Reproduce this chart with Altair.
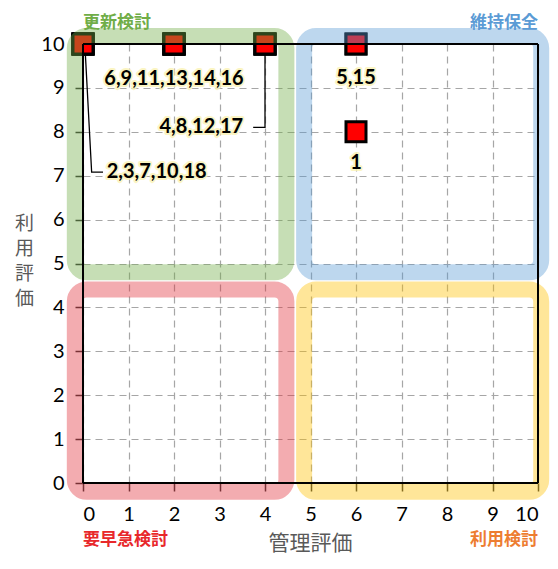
import altair as alt
import pandas as pd

# ---- data ----
item_ids = list(range(1, 19))
mgmt_score = [6, 0, 0, 4, 6, 2, 0, 4, 2, 0, 2, 4, 2, 2, 6, 2, 4, 0]
use_score = [8, 10, 10, 10, 10, 10, 10, 10, 10, 10, 10, 10, 10, 10, 10, 10, 10, 10]

group_text = ["1", "2,3,7,10,18", "6,9,11,13,14,16", "4,8,12,17", "5,15"]
group_lx = [6, 0.52, 2, 3.52, 6]
group_ly = [7.28, 7.08, 9.2, 8.1, 9.22]
group_align = ["center", "left", "center", "right", "center"]

quad_names = ["更新検討", "維持保全", "要早急検討", "利用検討"]
quad_colors = ["#70ad47", "#5b9bd5", "#e0303a", "#ffc000"]
quad_text_colors = ["#70ad47", "#5b9bd5", "#e8282b", "#ed7d31"]
quad_x = [-0.18, 4.86, -0.18, 4.86]
quad_x2 = [4.47, 10.07, 4.47, 10.07]
quad_y = [4.8, 4.8, -0.2, -0.2]
quad_y2 = [10.18, 10.18, 4.41, 4.41]
quad_lx = [0, 10, 0, 10]
quad_ly = [10.48, 10.48, -1.3, -1.3]
quad_align = ["left", "right", "left", "right"]

ticks = list(range(0, 11))

pts = pd.DataFrame({"id": item_ids, "x": mgmt_score, "y": use_score})
labels = pd.DataFrame({"text": group_text, "x": group_lx, "y": group_ly, "align": group_align})
quads = pd.DataFrame({"name": quad_names, "color": quad_colors, "tcolor": quad_text_colors,
                      "x": quad_x, "x2": quad_x2, "y": quad_y, "y2": quad_y2,
                      "lx": quad_lx, "ly": quad_ly, "align": quad_align})
leaders = pd.DataFrame({
    "g": ["a", "a", "a", "b", "b", "b"],
    "o": [0, 1, 2, 0, 1, 2],
    "x": [0.04, 0.19, 0.44, 4.0, 4.0, 3.74],
    "y": [10, 7.08, 7.08, 10, 8.1, 8.1],
})
borders = pd.DataFrame({"x": [0, 10, 0, 0], "x2": [10, 10, 0, 10],
                        "y": [10, 0, 0, 0], "y2": [10, 10, 10, 0]})

xs = alt.Scale(domain=[0, 10], nice=False, zero=False)
ys = alt.Scale(domain=[0, 10], nice=False, zero=False)

xaxis = alt.Axis(values=ticks, grid=True, gridDash=[7, 5], gridColor="#a6a6a6", gridWidth=1.2,
                 domain=False, tickColor="#333333", tickSize=8, tickWidth=1.5,
                 labelFont="Lato", labelFontSize=20, labelColor="#000000", labelPadding=13,
                 title="管理評価", titleFont="Noto Sans CJK JP", titleFontSize=21,
                 titleFontWeight="normal", titleColor="#595959",
                 titleX=227, titleY=60, titleBaseline="middle", titleAlign="center")
yaxis = alt.Axis(values=ticks, grid=True, gridDash=[7, 5], gridColor="#a6a6a6", gridWidth=1.2,
                 domain=False, tickColor="#333333", tickSize=8, tickWidth=1.5,
                 labelFont="Lato", labelFontSize=20, labelColor="#000000", labelPadding=11,
                 title=["利", "用", "評", "価"], titleFont="Noto Sans CJK JP", titleFontSize=19,
                 titleFontWeight="normal", titleColor="#595959", titleAngle=0,
                 titleX=-59, titleY=170, titleBaseline="top", titleAlign="center",
                 titleLineHeight=25)

base_pts = alt.Chart(pts).encode(
    x=alt.X("x:Q", scale=xs, axis=xaxis),
    y=alt.Y("y:Q", scale=ys, axis=yaxis),
)

leader_layer = alt.Chart(leaders).mark_line(color="#000000", strokeWidth=1.3).encode(
    x=alt.X("x:Q", scale=xs), y=alt.Y("y:Q", scale=ys), detail="g:N", order="o:Q")

point_layer = base_pts.mark_square(size=400, color="#ff0000", fill="#ff0000", filled=True,
                                   stroke="#000000", strokeWidth=3, opacity=1)

ring_layer = alt.Chart(quads).mark_rect(strokeWidth=16, cornerRadius=12, fillOpacity=0,
                                        strokeOpacity=0.4).encode(
    x=alt.X("x:Q", scale=xs), x2="x2:Q", y=alt.Y("y:Q", scale=ys), y2="y2:Q",
    stroke=alt.Stroke("color:N", scale=None))

border_layer = alt.Chart(borders).mark_rule(color="#000000", strokeWidth=2).encode(
    x=alt.X("x:Q", scale=xs), x2="x2:Q", y=alt.Y("y:Q", scale=ys), y2="y2:Q")

label_layers = []
for al in ["left", "center", "right"]:
    sub = alt.Chart(labels).transform_filter(alt.datum.align == al)
    label_layers.append(sub.mark_text(align=al, baseline="middle", font="Lato", fontSize=20,
                                      fontWeight="bold", stroke="#fbf3b5", strokeWidth=4,
                                      strokeJoin="round", fill="#fbf3b5", opacity=0.8).encode(
        x=alt.X("x:Q", scale=xs), y=alt.Y("y:Q", scale=ys), text="text:N"))
    label_layers.append(sub.mark_text(align=al, baseline="middle", font="Lato", fontSize=20,
                                      fontWeight="bold", color="#000000").encode(
        x=alt.X("x:Q", scale=xs), y=alt.Y("y:Q", scale=ys), text="text:N"))

quad_label_layers = []
for al in ["left", "right"]:
    quad_label_layers.append(
        alt.Chart(quads).transform_filter(alt.datum.align == al).mark_text(
            align=al, baseline="middle", font="Noto Sans CJK JP", fontSize=17,
            fontWeight="bold").encode(
            x=alt.X("lx:Q", scale=xs), y=alt.Y("ly:Q", scale=ys), text="name:N",
            color=alt.Color("tcolor:N", scale=None)))

chart = alt.layer(
    leader_layer, point_layer, ring_layer, border_layer, *label_layers, *quad_label_layers
).properties(
    width=455, height=439,
    autosize=alt.AutoSizeParams(type="none"),
    padding={"left": 75, "top": 36, "right": 12, "bottom": 72},
).configure_view(stroke=None).configure(background="#ffffff")

chart.save("out.html", embed_options={"renderer": "svg", "actions": False})
